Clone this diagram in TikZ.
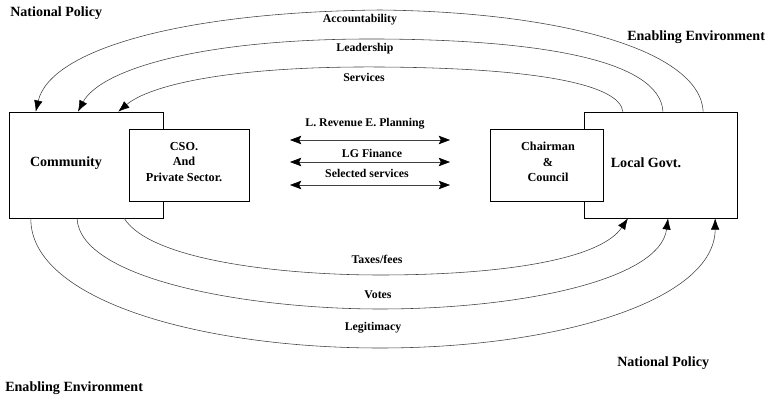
\documentclass[tikz,border=0pt]{standalone}
\usepackage{fontspec}
\setmainfont{Liberation Serif}
\usetikzlibrary{calc}
\usetikzlibrary{arrows.meta}

\tikzset{
  bigbox/.style={draw, thin, fill=white, inner sep=0pt, minimum height=2.65cm},
  smallbox/.style={draw, thin, fill=white, inner sep=0pt, minimum height=1.8cm},
  bigtext/.style={font=\bfseries\fontsize{10}{12}\selectfont, inner sep=0pt},
  boxtext/.style={font=\bfseries\fontsize{8.7}{11}\selectfont, align=center, inner sep=0pt},
  flowtext/.style={font=\bfseries\fontsize{8.4}{10}\selectfont, inner sep=0pt},
  flow/.style={draw=black!75, thin, -{Latex[length=8pt,width=6pt,black]}},
  swap/.style={draw=black!75, thin, {Stealth[length=8pt,width=6pt,inset=1.5pt,black]}-{Stealth[length=8pt,width=6pt,inset=1.5pt,black]}}
}

\begin{document}
\begin{tikzpicture}[x=0.025cm, y=-0.025cm]

\useasboundingbox (0, 0) rectangle (769, 400);

\node[bigbox, minimum width=3.85cm] (com) at (86, 165) {};
\node[smallbox, minimum width=3.0cm] (cso) at (189, 165) {};
\node[bigbox, minimum width=3.825cm] (lg) at (660.5, 165) {};
\node[smallbox, minimum width=2.825cm] (chair) at (546.5, 165) {};

\node[bigtext] (comtext) at (66, 163) {Community};
\node[boxtext] (csotext) at (184, 162) {CSO.\\And\\Private Sector.};
\node[bigtext] (lgtext) at (646, 163) {Local Govt.};
\node[boxtext] (chairtext) at (548, 162) {Chairman\\\&\\Council};

\node[bigtext, anchor=west] (np1) at (10, 13) {National Policy};
\node[bigtext, anchor=west] (ee1) at (627, 37) {Enabling Environment};
\node[bigtext, anchor=west] (np2) at (617, 363) {National Policy};
\node[bigtext, anchor=west] (ee2) at (5, 388) {Enabling Environment};

\draw[flow] ($(lg.north west)!0.778!(lg.north east)$) .. controls (700, 50) and (560, 12) .. (380, 10)
  .. controls (180, 12) and (50, 50) .. ($(com.north west)!0.175!(com.north east)$);
\draw[flow] ($(lg.north west)!0.516!(lg.north east)$) .. controls (660, 60) and (540, 40) .. (380, 39)
  .. controls (200, 38) and (100, 70) .. ($(com.north west)!0.448!(com.north east)$);
\draw[flow] ($(lg.north west)!0.255!(lg.north east)$) .. controls (620, 85) and (540, 68) .. (380, 67)
  .. controls (230, 66) and (150, 85) .. ($(com.north west)!0.708!(com.north east)$);

\node[flowtext] (acc) at (360, 20) {Accountability};
\node[flowtext] (lead) at (365, 49) {Leadership};
\node[flowtext] (serv) at (364, 77) {Services};

\draw[flow] ($(com.south west)!0.747!(com.south east)$) .. controls (150, 260) and (280, 275) .. (380, 275)
  .. controls (500, 275) and (600, 260) .. ($(lg.south west)!0.288!(lg.south east)$);
\draw[flow] ($(com.south west)!0.442!(com.south east)$) .. controls (80, 280) and (250, 309) .. (380, 309)
  .. controls (520, 309) and (660, 280) .. ($(lg.south west)!0.549!(lg.south east)$);
\draw[flow] ($(com.south west)!0.143!(com.south east)$) .. controls (30, 300) and (200, 348) .. (380, 348)
  .. controls (560, 348) and (715, 300) .. ($(lg.south west)!0.856!(lg.south east)$);

\node[flowtext] (tax) at (377, 259) {Taxes/fees};
\node[flowtext] (votes) at (378, 295) {Votes};
\node[flowtext] (legit) at (373, 328) {Legitimacy};

\coordinate (revl) at (290, 140);
\coordinate (revr) at (450, 140);
\coordinate (finl) at (290, 162);
\coordinate (finr) at (450, 162);
\coordinate (sell) at (290, 185);
\coordinate (selr) at (450, 185);

\draw[swap] (revl) -- (revr);
\draw[swap] (finl) -- (finr);
\draw[swap] (sell) -- (selr);

\node[flowtext] (rev) at (365, 124) {L. Revenue E. Planning};
\node[flowtext] (fin) at (372, 153) {LG Finance};
\node[flowtext] (sel) at (367, 173) {Selected services};

\end{tikzpicture}
\end{document}
